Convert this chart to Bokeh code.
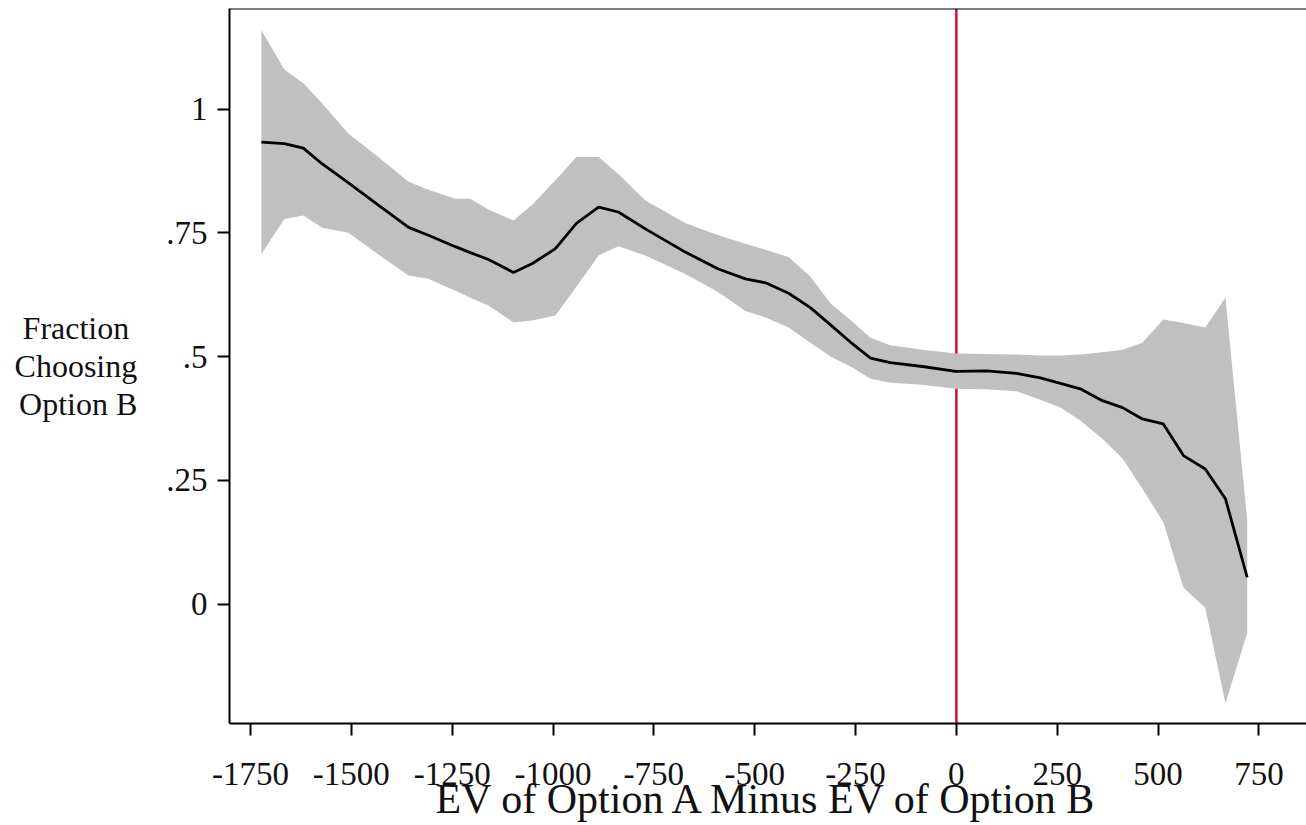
from bokeh.plotting import figure
from bokeh.models import Span, FixedTicker, Range1d
from bokeh.embed import file_html
from bokeh.resources import INLINE

# ---- data ----
ev_diff = [-1723, -1666, -1619, -1572, -1507, -1433, -1358, -1309, -1242, -1205,
           -1160, -1098, -1051, -994, -942, -887, -838, -771, -672, -590,
           -523, -473, -416, -362, -312, -258, -213, -164, -84, -2,
           74, 149, 208, 258, 307, 362, 412, 461, 513, 563,
           617, 667, 721]

frac_b = [0.933, 0.930, 0.921, 0.889, 0.851, 0.806, 0.761, 0.745, 0.722, 0.710,
          0.696, 0.670, 0.688, 0.718, 0.769, 0.802, 0.792, 0.758, 0.711, 0.677,
          0.657, 0.649, 0.628, 0.599, 0.564, 0.526, 0.497, 0.488, 0.480, 0.470,
          0.471, 0.466, 0.457, 0.446, 0.435, 0.411, 0.397, 0.374, 0.364, 0.300,
          0.273, 0.213, 0.054]

ci_upper = [1.159, 1.080, 1.052, 1.011, 0.950, 0.903, 0.853, 0.837, 0.819, 0.819,
            0.797, 0.775, 0.807, 0.856, 0.903, 0.903, 0.869, 0.815, 0.770, 0.745,
            0.728, 0.716, 0.701, 0.662, 0.607, 0.571, 0.538, 0.523, 0.514, 0.506,
            0.505, 0.504, 0.502, 0.502, 0.504, 0.509, 0.514, 0.528, 0.575, 0.568,
            0.559, 0.619, 0.170]

ci_lower = [0.707, 0.778, 0.785, 0.760, 0.750, 0.706, 0.664, 0.657, 0.633, 0.619,
            0.603, 0.569, 0.573, 0.583, 0.641, 0.704, 0.723, 0.704, 0.667, 0.630,
            0.592, 0.579, 0.559, 0.528, 0.500, 0.478, 0.455, 0.447, 0.443, 0.435,
            0.434, 0.430, 0.413, 0.397, 0.371, 0.334, 0.294, 0.233, 0.166, 0.033,
            -0.007, -0.200, -0.058]

x_ticks = [-1750, -1500, -1250, -1000, -750, -500, -250, 0, 250, 500, 750]
x_tick_labels = ["-1750", "-1500", "-1250", "-1000", "-750", "-500", "-250",
                 "0", "250", "500", "750"]
y_ticks = [0, 0.25, 0.5, 0.75, 1]
y_tick_labels = ["0", ".25", ".5", ".75", "1"]

x_title = "EV of Option A Minus EV of Option B"
y_title = "Fraction\u00a0\nChoosing\nOption B"

FONT = "Liberation Serif"
X0, X1 = -1802, 868
Y0, Y1 = -0.241, 1.203

p = figure(width=1306, height=825, output_backend="svg", toolbar_location=None,
           x_range=Range1d(X0, X1), y_range=Range1d(Y0, Y1),
           min_border_left=229, min_border_right=0, min_border_top=8,
           min_border_bottom=102)
p.outline_line_color = None
p.grid.visible = False
p.background_fill_color = "white"
p.border_fill_color = "white"

# zero reference line (under the band)
zero_line = Span(location=0, dimension="height", line_color="#c8143c",
                 line_width=2.5, level="underlay")
p.add_layout(zero_line)

# top frame line
top_line = Span(location=Y1, dimension="width", line_color="black", line_width=2)
p.add_layout(top_line)

p.varea(x=ev_diff, y1=ci_lower, y2=ci_upper, fill_color="#c0c0c0", fill_alpha=1.0)
p.line(x=ev_diff, y=frac_b, line_color="black", line_width=2.8)

xa = p.xaxis[0]
xa.ticker = FixedTicker(ticks=x_ticks)
xa.major_label_overrides = {t: s for t, s in zip(x_ticks, x_tick_labels)}
xa.minor_tick_line_color = None
xa.major_tick_in = 0
xa.major_tick_out = 12
xa.major_tick_line_width = 2
xa.axis_line_width = 2
xa.axis_line_color = "black"
xa.major_tick_line_color = "black"
xa.major_label_standoff = 27
xa.major_label_text_font = FONT
xa.major_label_text_font_size = "33px"
xa.major_label_text_color = "#111111"
xa.axis_label = x_title
xa.axis_label_text_font = FONT
xa.axis_label_text_font_size = "42px"
xa.axis_label_text_font_style = "normal"
xa.axis_label_text_color = "#111111"
xa.axis_label_standoff = -12

ya = p.yaxis[0]
ya.ticker = FixedTicker(ticks=y_ticks)
ya.major_label_overrides = {t: s for t, s in zip(y_ticks, y_tick_labels)}
ya.minor_tick_line_color = None
ya.major_tick_in = 0
ya.major_tick_out = 12
ya.major_tick_line_width = 2
ya.axis_line_width = 2
ya.axis_line_color = "black"
ya.major_tick_line_color = "black"
ya.major_label_standoff = 10
ya.major_label_orientation = "horizontal"
ya.major_label_text_font = FONT
ya.major_label_text_font_size = "33px"
ya.major_label_text_color = "#111111"
ya.axis_label = y_title
ya.axis_label_orientation = "horizontal"
ya.axis_label_text_font = FONT
ya.axis_label_text_font_size = "32px"
ya.axis_label_text_font_style = "normal"
ya.axis_label_text_color = "#111111"
ya.axis_label_text_line_height = 1.05
ya.axis_label_standoff = 26

open("out.html", "w").write(file_html(p, INLINE))
